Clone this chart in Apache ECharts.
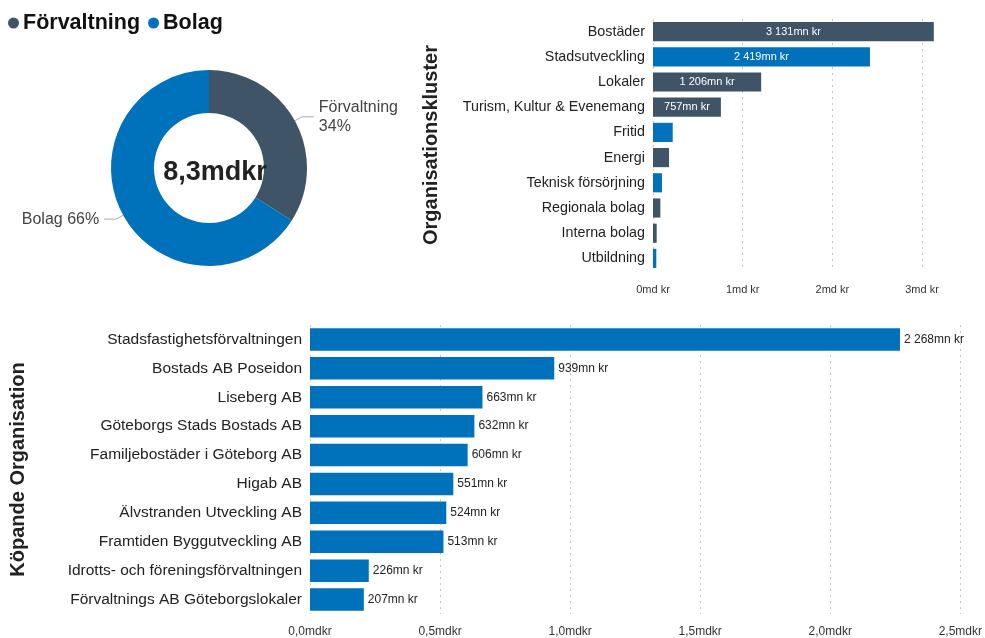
<!DOCTYPE html>
<html>
<head>
<meta charset="utf-8">
<script src="https://cdn.jsdelivr.net/npm/echarts@6/dist/echarts.min.js"></script>
<style>
  html, body { margin: 0; padding: 0; background: #fff; }
  #main { width: 985px; height: 638px; }
</style>
</head>
<body>
<div id="main"></div>
<script>
// donut: split of total spend (mn kr)
const donutNames = ['Förvaltning', 'Bolag'];
const donutValues = [2820, 5480];
const totalLabel = '8,3mdkr';

// top right: per organisation cluster (mn kr)
const clusters = ['Bostäder', 'Stadsutveckling', 'Lokaler', 'Turism, Kultur & Evenemang', 'Fritid',
    'Energi', 'Teknisk försörjning', 'Regionala bolag', 'Interna bolag', 'Utbildning'];
const clusterValues = [3131, 2419, 1206, 757, 220, 179, 100, 82, 41, 37];
const clusterGroup = [0, 1, 0, 0, 1, 0, 1, 0, 0, 1];

// bottom: buying organisation (mn kr)
const buyers = ['Stadsfastighetsförvaltningen', 'Bostads AB Poseidon', 'Liseberg AB', 'Göteborgs Stads Bostads AB',
    'Familjebostäder i Göteborg AB', 'Higab AB', 'Älvstranden Utveckling AB', 'Framtiden Byggutveckling AB',
    'Idrotts- och föreningsförvaltningen', 'Förvaltnings AB Göteborgslokaler'];
const buyerValues = [2268, 939, 663, 632, 606, 551, 524, 513, 226, 207];

const groupColors = ['#3f5466', '#0072bb'];
const font = '"Liberation Sans", Arial, sans-serif';

const fmtMn = v => {
    let s = String(Math.round(v));
    return s.replace(/\B(?=(\d{3})+(?!\d))/g, ' ') + 'mn kr';
};

let myChart = echarts.init(document.getElementById('main'));

const gridLine = { show: true, lineStyle: { type: [2, 4], color: '#c8c8c8', width: 1 } };

let option = {
    textStyle: { fontFamily: font },
    animation: false,
    color: groupColors,
    legend: {
        left: 3,
        top: 7,
        data: donutNames,
        icon: 'circle',
        itemWidth: 11,
        itemHeight: 11,
        itemGap: 8,
        textStyle: { fontSize: 21.5, fontWeight: 'bold', color: '#111', fontFamily: font, padding: [0, 0, 0, -1] }
    },
    title: {
        text: totalLabel,
        left: 210,
        top: 154,
        textAlign: 'center',
        textStyle: { fontSize: 27, fontWeight: 'bold', color: '#222', fontFamily: font }
    },
    grid: [
        { left: 653, right: 45, top: 19, height: 252 },
        { left: 310, right: 20, top: 325, height: 289 }
    ],
    xAxis: [
        {
            gridIndex: 0, type: 'value', min: 0, max: 3200, interval: 1000,
            axisLine: { show: false }, axisTick: { show: false },
            splitLine: Object.assign({ showMaxLine: false }, gridLine),
            axisLabel: {
                fontSize: 11, color: '#333', margin: 13, showMaxLabel: false,
                formatter: v => (v / 1000) + 'md kr'
            }
        },
        {
            gridIndex: 1, type: 'value', min: 0, max: 2500, interval: 500,
            axisLine: { show: false }, axisTick: { show: false },
            splitLine: gridLine,
            axisLabel: {
                fontSize: 12, color: '#333', margin: 12,
                formatter: v => (v / 1000).toFixed(1).replace('.', ',') + 'mdkr'
            }
        }
    ],
    yAxis: [
        {
            gridIndex: 0, type: 'category', data: clusters, inverse: true,
            axisLine: { show: false }, axisTick: { show: false },
            axisLabel: { fontSize: 14.3, color: '#222', margin: 8 },
            name: 'Organisationskluster', nameLocation: 'middle', nameRotate: 90, nameGap: 212,
            nameTextStyle: { fontSize: 20, fontWeight: 'bold', color: '#222' }
        },
        {
            gridIndex: 1, type: 'category', data: buyers, inverse: true,
            axisLine: { show: false }, axisTick: { show: false },
            axisLabel: { fontSize: 15.5, color: '#222', margin: 8 },
            name: 'Köpande Organisation', nameLocation: 'middle', nameRotate: 90, nameGap: 282,
            nameTextStyle: { fontSize: 20, fontWeight: 'bold', color: '#222' }
        }
    ],
    series: [
        {
            type: 'pie',
            center: [209, 168],
            radius: [55, 98],
            startAngle: 90,
            clockwise: true,
            label: {
                fontSize: 16, color: '#444', lineHeight: 19,
                formatter: p => p.dataIndex === 0 ? p.name + '\n' + Math.round(p.percent) + '%' : p.name + ' ' + Math.round(p.percent) + '%'
            },
            labelLine: { length: 8, length2: 12, lineStyle: { color: '#aaa' } },
            data: donutNames.map((n, i) => ({ name: n, value: donutValues[i] }))
        },
        {
            type: 'bar',
            xAxisIndex: 0, yAxisIndex: 0,
            barWidth: '76%',
            label: {
                show: true, position: 'inside', color: '#fff', fontSize: 11,
                formatter: p => p.value > 500 ? fmtMn(p.value) : ''
            },
            data: clusterValues.map((v, i) => ({ value: v, itemStyle: { color: groupColors[clusterGroup[i]] } }))
        },
        {
            type: 'bar',
            xAxisIndex: 1, yAxisIndex: 1,
            barWidth: '78%',
            itemStyle: { color: groupColors[1] },
            label: {
                show: true, position: 'right', color: '#222', fontSize: 12, distance: 4,
                formatter: p => fmtMn(p.value)
            },
            data: buyerValues
        }
    ]
};

option && myChart.setOption(option);
</script>
</body>
</html>
